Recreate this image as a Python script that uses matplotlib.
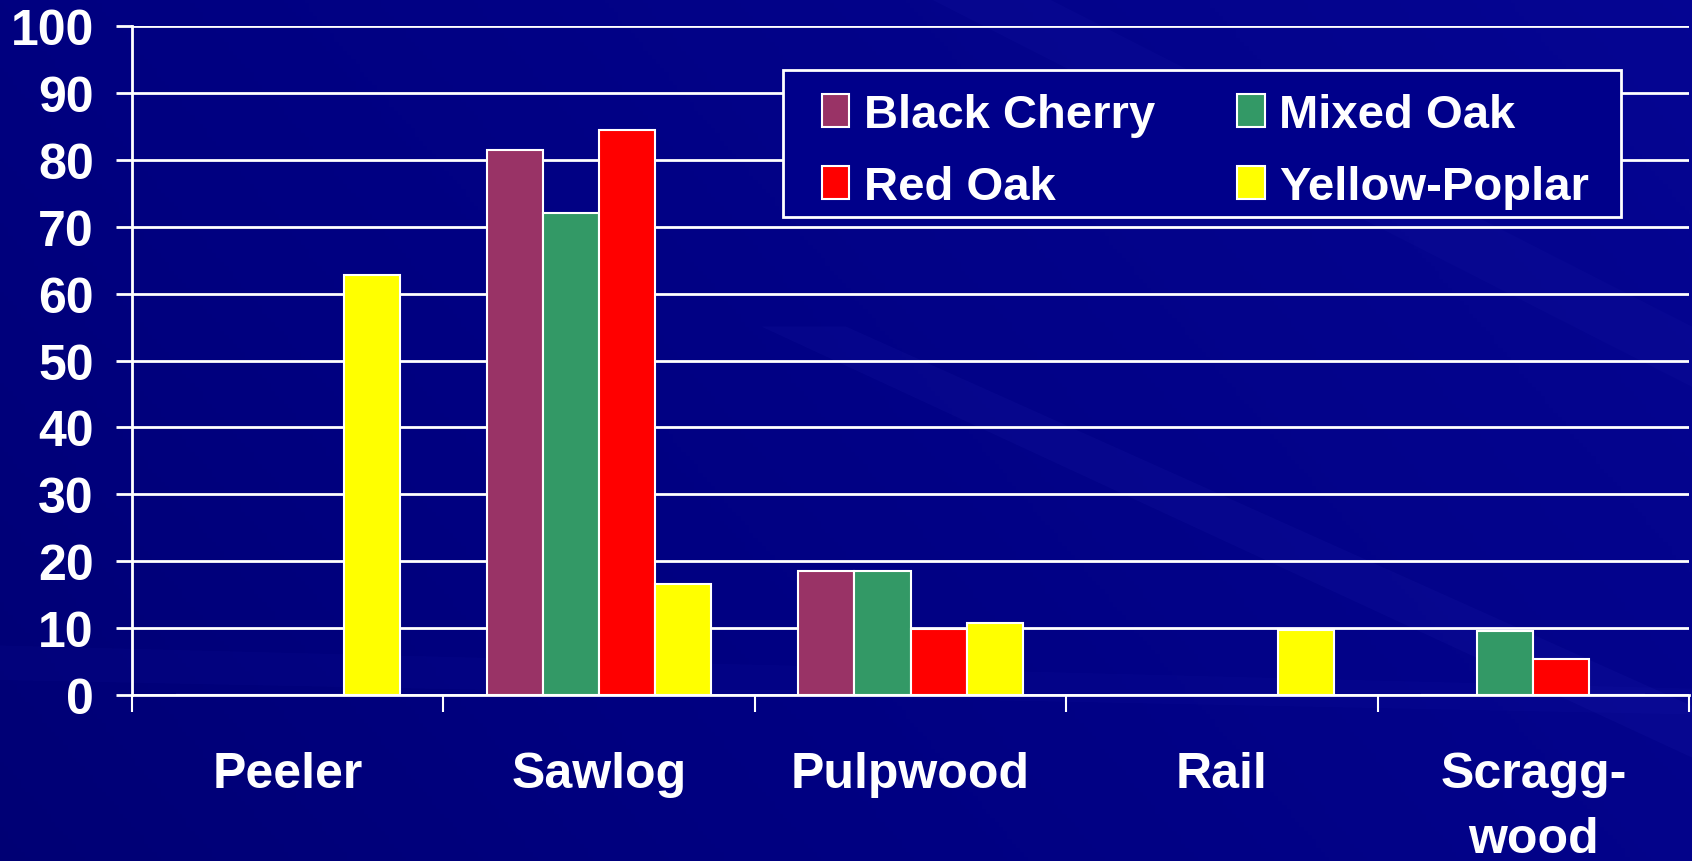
import matplotlib.pyplot as plt
import numpy as np
from matplotlib.patches import Patch, Polygon, Rectangle
from matplotlib.colors import LinearSegmentedColormap

plt.rcParams['font.family'] = ['Liberation Sans', 'DejaVu Sans']
plt.rcParams['font.weight'] = 'bold'

# data
categories = ['Peeler', 'Sawlog', 'Pulpwood', 'Rail', 'Scragg-\nwood']
species = ['Black Cherry', 'Mixed Oak', 'Red Oak', 'Yellow-Poplar']
black_cherry = [0, 81.5, 18.5, 0, 0]
mixed_oak = [0, 72, 18.5, 0, 9.6]
red_oak = [0, 84.5, 9.9, 0, 5.4]
yellow_poplar = [62.8, 16.6, 10.8, 9.7, 0]
colors = ['#993366', '#339966', '#ff0000', '#ffff00']
yticks = list(range(0, 101, 10))

W, H = 1692, 862
fig = plt.figure(figsize=(W / 100, H / 100), dpi=100)
fig.patch.set_facecolor('#000080')

# background: navy gradient with a few faint diagonal streaks
bg = fig.add_axes([0, 0, 1, 1], zorder=-10)
gx, gy = np.meshgrid(np.linspace(0, 1, 400), np.linspace(0, 1, 200))
shade = 0.35 + 0.35 * gx + 0.15 * (1 - gy)
navy = LinearSegmentedColormap.from_list('navy', ['#00005a', '#000080', '#08089a'])
bg.imshow(shade, cmap=navy, extent=[0, 1, 0, 1], aspect='auto', origin='upper', vmin=0, vmax=1)
for pts, a in [([(0.55, 1.0), (0.62, 1.0), (1.0, 0.62), (1.0, 0.55)], 0.06),
               ([(0.45, 0.62), (0.5, 0.62), (1.0, 0.18), (1.0, 0.12)], 0.08),
               ([(0.0, 0.25), (1.0, 0.2), (1.0, 0.17), (0.0, 0.21)], 0.05)]:
    bg.add_patch(Polygon(pts, closed=True, color='#3a3ad0', alpha=a, lw=0))
bg.set_xlim(0, 1)
bg.set_ylim(0, 1)
bg.axis('off')

ax = fig.add_axes([132 / W, 1 - 696 / H, (1689 - 132) / W, (696 - 27) / H])
ax.set_facecolor('none')

x = np.arange(len(categories))
width = 0.18
series = [black_cherry, mixed_oak, red_oak, yellow_poplar]
for i, (vals, col) in enumerate(zip(series, colors)):
    ax.bar(x + (i - 1.5) * width, vals, width, color=col, edgecolor='white',
           linewidth=1.5, zorder=3)

ax.set_xlim(-0.5, len(categories) - 0.5)
ax.set_ylim(0, 100)
ax.set_yticks(yticks)
ax.yaxis.grid(True, color='white', linewidth=2)
ax.set_axisbelow(True)

ax.set_xticks(np.arange(-0.5, len(categories)))
ax.set_xticklabels([])
ax.set_xticks(x, minor=True)
ax.set_xticklabels(categories, minor=True, linespacing=1.55)
ax.tick_params(axis='x', which='major', direction='out', length=12, width=1.5, color='white')
ax.tick_params(axis='x', which='minor', length=0, pad=40, labelsize=36, labelcolor='white')
ax.tick_params(axis='y', direction='out', length=11.5, width=2, color='white',
               labelsize=36, labelcolor='white', pad=16)

for s in ['top', 'right']:
    ax.spines[s].set_visible(False)
for s in ['left', 'bottom']:
    ax.spines[s].set_color('white')
    ax.spines[s].set_linewidth(2)

# legend frame drawn by hand, entries placed inside it
fig.add_artist(Rectangle((783 / W, 1 - 218 / H), (1621 - 783) / W, (218 - 71) / H,
                         transform=fig.transFigure, facecolor='#00008a',
                         edgecolor='white', linewidth=2, zorder=5))
handles = [Patch(facecolor=c, edgecolor='white', linewidth=1.5) for c in colors]
order = [0, 2, 1, 3]
leg = fig.legend([handles[i] for i in order], [species[i] for i in order],
                 ncol=2, loc='upper left', bbox_to_anchor=(822 / W, 1 - 94 / H),
                 fontsize=34, frameon=False, borderaxespad=0, borderpad=0,
                 handlelength=0.58, handleheight=0.7, handletextpad=0.3,
                 columnspacing=1.75, labelspacing=0.6)
leg.set_zorder(6)
for t in leg.get_texts():
    t.set_color('white')

fig.savefig('out.png', dpi=100, facecolor=fig.get_facecolor())
